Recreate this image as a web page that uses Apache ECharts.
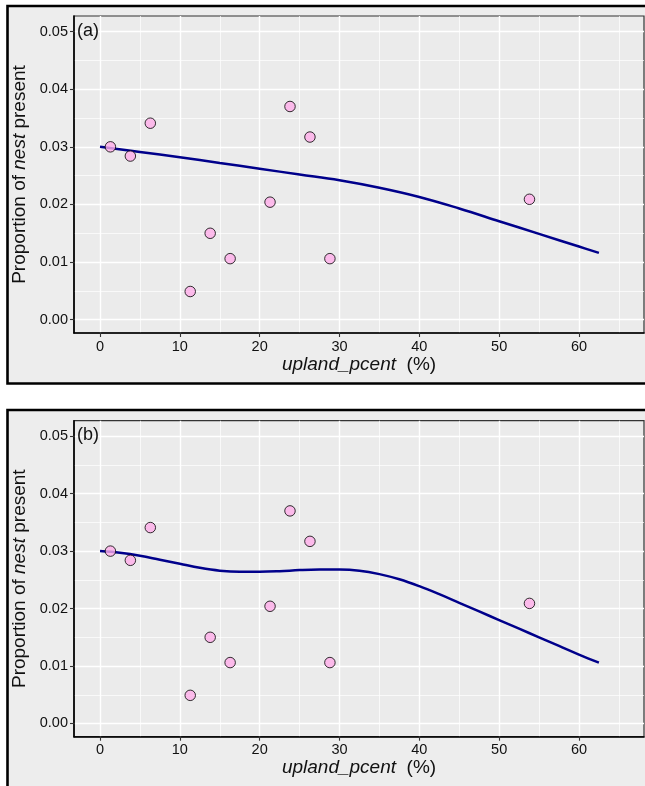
<!DOCTYPE html>
<html>
<head>
<meta charset="utf-8">
<script src="https://cdn.jsdelivr.net/npm/echarts@6/dist/echarts.min.js"></script>
<style>
  html, body { margin: 0; padding: 0; background: #ffffff; }
  #chart { width: 645px; height: 786px; }
</style>
</head>
<body>
<div id="chart"></div>
<script>
// Observed proportion of sites with a nest, by upland cover (%)
const upland   = [1.3, 3.8, 6.3, 11.3, 13.8, 16.3, 21.3, 23.8, 26.3, 28.8, 53.8];
const nestProp = [0.0300, 0.0284, 0.0341, 0.0049, 0.0150, 0.0106, 0.0204, 0.0370, 0.0317, 0.0106, 0.0209];

// Fitted curve, panel (a)
const fitAX = [0, 5, 10, 15, 20, 25, 30, 35, 40, 45, 50, 55, 60, 62.5];
const fitA  = [0.0300, 0.0291, 0.0282, 0.0272, 0.0262, 0.0252, 0.0242, 0.0229, 0.0213, 0.0193, 0.0171, 0.0149, 0.0127, 0.0116];

// Fitted curve, panel (b)
const fitBX = [0, 2.5, 5, 7.5, 10, 12.5, 15, 17.5, 20, 22.5, 25, 27.5, 30, 32.5, 35, 37.5, 40, 42.5, 45, 47.5, 50, 52.5, 55, 57.5, 60, 62.5];
const fitB  = [0.0300, 0.0297, 0.0292, 0.0285, 0.0278, 0.0271, 0.0266, 0.0264, 0.0264, 0.0265, 0.0267, 0.0268, 0.0268, 0.0266, 0.0260, 0.0251, 0.0239, 0.0225, 0.0210, 0.0195, 0.0180, 0.0165, 0.0150, 0.0135, 0.0120, 0.0106];

// Tick labels
const xTicks = [0, 10, 20, 30, 40, 50, 60];
const yTicks = [0, 0.01, 0.02, 0.03, 0.04, 0.05];
const panelTags = ['(a)', '(b)'];

const FONT = "'Liberation Sans', Arial, Helvetica, sans-serif";
const pts = upland.map((x, i) => [x, nestProp[i]]);
const curve = (xs, ys) => xs.map((x, i) => [x, ys[i]]);

const grids = [
  { left: 74, top: 16, width: 570, height: 317 },
  { left: 74, top: 420.7, width: 570, height: 316 }
];

function xAxisFor(idx) {
  return {
    gridIndex: idx, type: 'value', min: -3.26, max: 68.15, splitNumber: 7,
    name: '{i|upland_pcent}{n|  (%)}', nameLocation: 'middle', nameGap: 18,
    nameTextStyle: { rich: {
      i: { fontStyle: 'italic', fontSize: 19, color: '#111', fontFamily: FONT },
      n: { fontSize: 19, color: '#111', fontFamily: FONT } } },
    axisLine: { show: true, onZero: false, lineStyle: { color: '#000', width: 1.6 } },
    axisTick: { show: true, length: 4, customValues: xTicks, lineStyle: { color: '#333', width: 1.1 } },
    axisLabel: { customValues: xTicks, margin: 6, fontSize: 14.5, color: '#111', fontFamily: FONT },
    splitLine: { show: true, lineStyle: { color: '#ffffff', width: 1.4 } },
    minorTick: { show: false, splitNumber: 2 },
    minorSplitLine: { show: true, lineStyle: { color: '#ffffff', width: 0.7 } }
  };
}
function yAxisFor(idx) {
  return {
    gridIndex: idx, type: 'value', min: -0.0023, max: 0.0527, splitNumber: 5,
    name: '{n|Proportion of }{i|nest}{n| present}', nameLocation: 'middle', nameGap: 39, nameRotate: 90,
    nameTextStyle: { rich: {
      i: { fontStyle: 'italic', fontSize: 19, color: '#111', fontFamily: FONT },
      n: { fontSize: 19, color: '#111', fontFamily: FONT } } },
    axisLine: { show: true, onZero: false, lineStyle: { color: '#000', width: 1.6 } },
    axisTick: { show: true, length: 4, customValues: yTicks, lineStyle: { color: '#333', width: 1.1 } },
    axisLabel: { customValues: yTicks, margin: 6, fontSize: 14.5, color: '#111', fontFamily: FONT,
      formatter: v => v.toFixed(2) },
    splitLine: { show: true, lineStyle: { color: '#ffffff', width: 1.4 } },
    minorTick: { show: false, splitNumber: 2 },
    minorSplitLine: { show: true, lineStyle: { color: '#ffffff', width: 0.7 } }
  };
}

function fitSeries(idx, xs, ys) {
  return {
    type: 'line', xAxisIndex: idx, yAxisIndex: idx, data: curve(xs, ys),
    smooth: 0.4, showSymbol: false, z: 3,
    lineStyle: { color: '#00008B', width: 2.5 }
  };
}
function pointSeries(idx) {
  return {
    type: 'scatter', xAxisIndex: idx, yAxisIndex: idx, data: pts,
    symbol: 'circle', symbolSize: 10.5, z: 5,
    itemStyle: { color: '#FFAEEA', borderColor: '#000', borderWidth: 1 }
  };
}

const chart = echarts.init(document.getElementById('chart'), null, { renderer: 'canvas' });
chart.setOption({
  animation: false,
  backgroundColor: '#ffffff',
  textStyle: { fontFamily: FONT },
  graphic: [
    { type: 'rect', z: -10, shape: { x: 7.5, y: 6, width: 660, height: 377.5 },
      style: { fill: '#EDEDED', stroke: '#000', lineWidth: 2.6 } },
    { type: 'rect', z: -10, shape: { x: 7.5, y: 410, width: 660, height: 420 },
      style: { fill: '#EDEDED', stroke: '#000', lineWidth: 2.6 } },
    { type: 'text', z: 10, x: 77, y: 31.5,
      style: { text: panelTags[0], fill: '#111', font: '18px ' + FONT, textVerticalAlign: 'middle' } },
    { type: 'text', z: 10, x: 77, y: 435.5,
      style: { text: panelTags[1], fill: '#111', font: '18px ' + FONT, textVerticalAlign: 'middle' } }
  ],
  grid: grids.map(g => Object.assign({ show: true, backgroundColor: '#EBEBEB', borderColor: '#333', borderWidth: 1.2 }, g)),
  xAxis: [xAxisFor(0), xAxisFor(1)],
  yAxis: [yAxisFor(0), yAxisFor(1)],
  series: [fitSeries(0, fitAX, fitA), pointSeries(0), fitSeries(1, fitBX, fitB), pointSeries(1)]
});
</script>
</body>
</html>
